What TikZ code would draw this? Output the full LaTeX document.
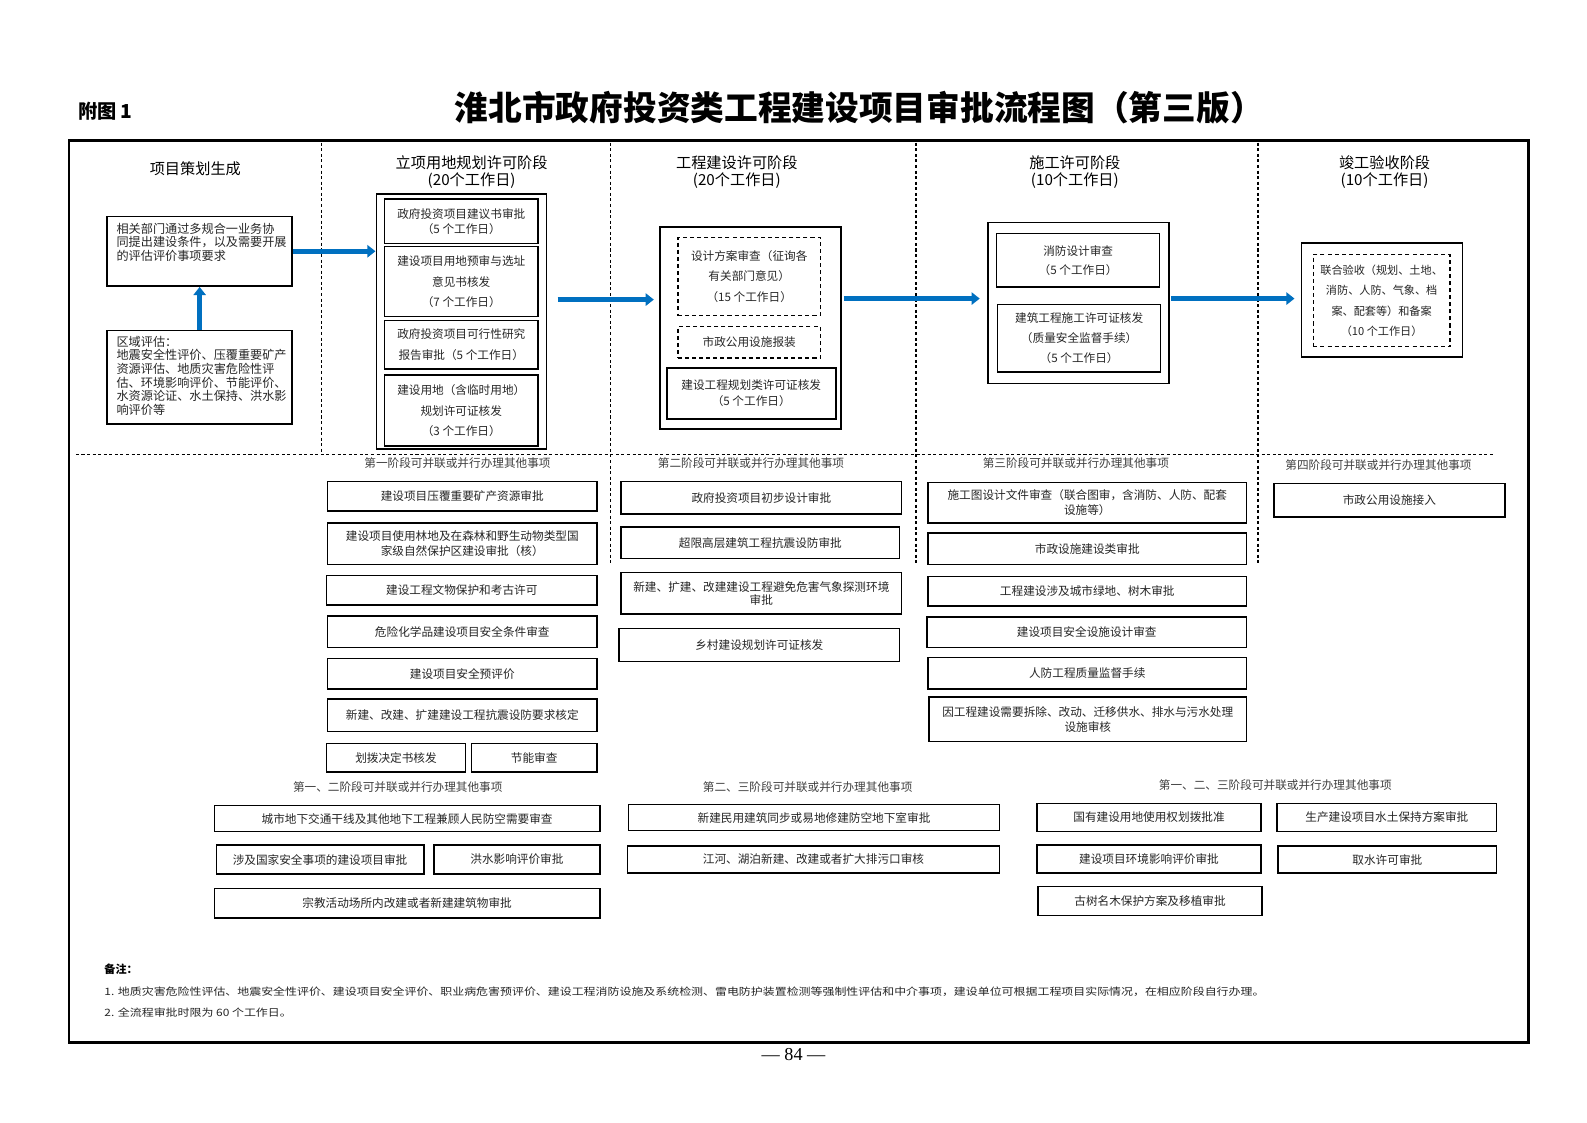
\documentclass[tikz,border=0pt]{standalone}
\usepackage{fontspec}
\setmainfont{Noto Sans CJK SC}
\newfontfamily\notefont[FakeStretch=1.18]{Noto Sans CJK SC}
\newfontfamily\pgnum{Liberation Serif}
\usetikzlibrary{arrows.meta,calc}
\definecolor{arrblue}{HTML}{0070C0}
\newcommand\mkbox[7][]{%
  \pgfmathsetmacro\mkw{#5-#3}%
  \pgfmathsetmacro\mkh{#6-#4}%
  \node[bx,#1,minimum width=\mkw pt,minimum height=\mkh pt,anchor=north west] (#2) at (#3,#4) {#7};%
}
\tikzset{
  bx/.style={draw,line width=1.5pt,inner sep=0pt,align=center,font=\fontsize{11.5}{15}\selectfont,text=black!85},
  wide/.style={font=\fontsize{11.5}{20.5}\selectfont},
  dbx/.style={dash pattern=on 4pt off 3pt},
  outer/.style={line width=1.8pt},
  sep/.style={line width=1.2pt,dash pattern=on 3pt off 2.5pt},
  arr/.style={arrblue,line width=5pt,-{Triangle[width=12pt,length=8pt]}},
  hdr/.style={font=\fontsize{15}{16.5}\selectfont,align=center},
  sec/.style={font=\fontsize{11.5}{14}\selectfont,text=black!75},
  ltxt/.style={anchor=north west,inner sep=0pt,align=left,font=\fontsize{12}{13.4}\selectfont,text=black!85},
}
\begin{document}
\begin{tikzpicture}[x=1pt,y=-1pt]
\useasboundingbox (0,0) rectangle (1568,1109);
\fill[white] (0,0) rectangle (1568,1109);

% titles
\node[anchor=west,inner sep=0pt,font=\bfseries\fontsize{19}{22}\selectfont] (fig) at (77,110) {附图 1};
\node[font=\bfseries\fontsize{33.3}{37}\selectfont] (title) at (849,106) {淮北市政府投资类工程建设项目审批流程图（第三版）};

% frame
\draw[line width=2.5pt] (68,139) rectangle (1510,1030);

% separators
\draw[sep] (318,141) -- (318,449);
\draw[sep] (603,141) -- (603,557);
\draw[sep] (905,141) -- (905,557);
\draw[sep] (1243,141) -- (1243,557);
\draw[sep] (75,449) -- (1475,449);

% stage headers
\node[hdr] (h0) at (193,167) {项目策划生成};
\node[hdr] (h1) at (466,170) {立项用地规划许可阶段\\(20个工作日)};
\node[hdr] (h2) at (728,170) {工程建设许可阶段\\(20个工作日)};
\node[hdr] (h3) at (1062,170) {施工许可阶段\\(10个工作日)};
\node[hdr] (h4) at (1368,170) {竣工验收阶段\\(10个工作日)};

% column 1
\mkbox{b1}{105}{213}{288}{282}{}
\node[ltxt] (t1) at (115,220) {相关部门通过多规合一业务协\\同提出建设条件，以及需要开展\\的评估评价事项要求};
\mkbox{b2}{105}{326}{288}{418}{}
\node[ltxt] (t2) at (115,332) {区域评估：\\地震安全性评价、压覆重要矿产\\资源评估、地质灾害危险性评\\估、环境影响评价、节能评价、\\水资源论证、水土保持、洪水影\\响评价等};

% stage 1
\mkbox[outer]{s1}{371}{191}{539}{443}{}
\mkbox{s1a}{379}{196}{531}{240}{政府投资项目建议书审批\\（5 个工作日）}
\mkbox[wide]{s1b}{379}{243}{531}{312}{建设项目用地预审与选址\\意见书核发\\（7 个工作日）}
\mkbox[wide]{s1c}{379}{316}{531}{364}{政府投资项目可行性研究\\报告审批（5 个工作日）}
\mkbox[wide]{s1d}{379}{370}{531}{440}{建设用地（含临时用地）\\规划许可证核发\\（3 个工作日）}

% stage 2
\mkbox[outer]{s2}{651}{223}{830}{423}{}
\mkbox[wide,dbx]{s2a}{669}{234}{810}{311}{设计方案审查（征询各\\有关部门意见）\\（15 个工作日）}
\mkbox[dbx]{s2b}{669}{322}{810}{353}{市政公用设施报装}
\mkbox[font=\fontsize{11.5}{16}\selectfont]{s2c}{658}{363}{825}{413}{建设工程规划类许可证核发\\（5 个工作日）}

% stage 3
\mkbox[outer]{s3}{975}{219}{1154}{378}{}
\mkbox[font=\fontsize{11.5}{19}\selectfont]{s3a}{984}{230}{1145}{283}{消防设计审查\\（5 个工作日）}
\mkbox[font=\fontsize{11.5}{19.5}\selectfont]{s3b}{985}{300}{1146}{367}{建筑工程施工许可证核发\\（质量安全监督手续）\\（5 个工作日）}

% stage 4
\mkbox[outer]{s4}{1285}{239}{1444}{352}{}
\mkbox[font=\fontsize{11}{20}\selectfont,dbx,line width=1.2pt]{s4a}{1297}{251}{1432}{342}{联合验收（规划、土地、\\消防、人防、气象、档\\案、配套等）和备案\\（10 个工作日）}

% arrows
\draw[arr] (b2.north) -- (b1.south);
\draw[arr] (b1.east) -- (s1.west |- b1.east);
\coordinate (r2) at (551,296);
\draw[arr,shorten >=5pt] (r2) -- (s2.west |- r2);
\draw[arr,shorten <=2pt,shorten >=7pt] (s2.east |- 0,295) -- (s3.west |- 0,295);
\draw[arr,shorten <=1pt,shorten >=6pt] (s3.east |- 0,295) -- (s4.west |- 0,295);

% section headers
\node[sec] (c1) at (452,458) {第一阶段可并联或并行办理其他事项};
\node[sec] (c2) at (742,458) {第二阶段可并联或并行办理其他事项};
\node[sec] (c3) at (1063,458) {第三阶段可并联或并行办理其他事项};
\node[sec] (c4) at (1362,460) {第四阶段可并联或并行办理其他事项};

% column A
\mkbox{a1}{323}{475}{589}{504}{建设项目压覆重要矿产资源审批}
\mkbox{a2}{323}{516}{589}{557}{建设项目使用林地及在森林和野生动物类型国\\家级自然保护区建设审批（核）}
\mkbox{a3}{322}{568}{589}{597}{建设工程文物保护和考古许可}
\mkbox{a4}{323}{608}{589}{639}{危险化学品建设项目安全条件审查}
\mkbox{a5}{323}{650}{589}{680}{建设项目安全预评价}
\mkbox{a6}{323}{690}{589}{722}{新建、改建、扩建建设工程抗震设防要求核定}
\mkbox{a7}{322}{734}{459}{762}{划拨决定书核发}
\mkbox{a8}{465}{734}{589}{762}{节能审查}

% column B
\mkbox{bb1}{613}{475}{890}{507}{政府投资项目初步设计审批}
\mkbox{bb2}{613}{520}{888}{551}{超限高层建筑工程抗震设防审批}
\mkbox[font=\fontsize{11.5}{13.5}\selectfont]{bb3}{613}{565}{890}{606}{新建、扩建、改建建设工程避免危害气象探测环境\\审批}
\mkbox{bb4}{611}{620}{888}{653}{乡村建设规划许可证核发}

% column C
\mkbox{cc1}{916}{476}{1231}{516}{施工图设计文件审查（联合图审，含消防、人防、配套\\设施等）}
\mkbox{cc2}{916}{526}{1231}{557}{市政设施建设类审批}
\mkbox{cc3}{916}{569}{1231}{598}{工程建设涉及城市绿地、树木审批}
\mkbox{cc4}{915}{609}{1231}{639}{建设项目安全设施设计审查}
\mkbox{cc5}{916}{649}{1231}{680}{人防工程质量监督手续}
\mkbox{cc6}{917}{688}{1231}{732}{因工程建设需要拆除、改动、迁移供水、排水与污水处理\\设施审核}

% column D
\mkbox{dd1}{1258}{477}{1486}{510}{市政公用设施接入}

% bottom group 1
\node[sec] (g1) at (393,778) {第一、二阶段可并联或并行办理其他事项};
\mkbox{e1}{211}{795}{592}{821}{城市地下交通干线及其他地下工程兼顾人民防空需要审查}
\mkbox{e2}{213}{834}{418}{863}{涉及国家安全事项的建设项目审批}
\mkbox{e3}{428}{834}{592}{863}{洪水影响评价审批}
\mkbox{e4}{211}{877}{592}{906}{宗教活动场所内改建或者新建建筑物审批}

% bottom group 2
\node[sec] (g2) at (798,778) {第二、三阶段可并联或并行办理其他事项};
\mkbox{f1}{620}{794}{987}{820}{新建民用建筑同步或易地修建防空地下室审批}
\mkbox{f2}{619}{835}{987}{862}{江河、湖泊新建、改建或者扩大排污口审核}

% bottom group 3
\node[sec] (g3) at (1260,776) {第一、二、三阶段可并联或并行办理其他事项};
\mkbox{k1}{1024}{793}{1245}{821}{国有建设用地使用权划拨批准}
\mkbox{k2}{1261}{793}{1478}{821}{生产建设项目水土保持方案审批}
\mkbox{k3}{1024}{834}{1245}{862}{建设项目环境影响评价审批}
\mkbox{k4}{1262}{835}{1478}{862}{取水许可审批}
\mkbox{k5}{1025}{875}{1246}{904}{古树名木保护方案及移植审批}

% notes
\node[anchor=west,inner sep=0pt,font=\bfseries\fontsize{11}{13}\selectfont] (nt) at (103,958) {备注：};
\node[anchor=west,inner sep=0pt,font={\notefont\fontsize{10}{12}\selectfont},text=black!85] (n1) at (103,980) {1. 地质灾害危险性评估、地震安全性评价、建设项目安全评价、职业病危害预评价、建设工程消防设施及系统检测、雷电防护装置检测等强制性评估和中介事项，建设单位可根据工程项目实际情况，在相应阶段自行办理。};
\node[anchor=west,inner sep=0pt,font={\notefont\fontsize{10}{12}\selectfont},text=black!85] (n2) at (103,1000) {2. 全流程审批时限为 60 个工作日。};

% page number
\node[font={\pgnum\fontsize{18}{20}\selectfont}] (pg) at (784,1042) {— 84 —};
\end{tikzpicture}
\end{document}
